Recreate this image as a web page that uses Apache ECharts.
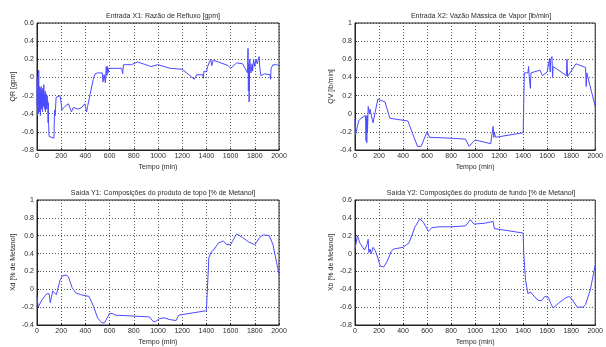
<!DOCTYPE html>
<html>
<head>
<meta charset="utf-8">
<script src="https://cdn.jsdelivr.net/npm/echarts@6/dist/echarts.min.js"></script>
<style>
  html, body { margin: 0; padding: 0; background: #fff; }
  #chart { width: 606px; height: 347px; }
</style>
</head>
<body>
<div id="chart"></div>
<script>
// Entrada X1: reflux flow rate QR [gpm]
const qrTime = [0,2,4,6,8,10,12,14,16,18,20,22,24,26,28,30,32,34,36,38,40,42,44,46,48,50,52,54,56,58,60,62,64,66,68,70,72,74,76,78,80,82,84,86,88,90,92,94,96,
  100,140,145,150,158,165,190,200,205,230,260,285,300,340,370,395,405,410,418,425,440,465,480,500,540,545,555,565,572,578,582,588,592,600,700,708,715,780,830,900,940,1000,1100,1200,1300,1312,1320,1370,1375,1380,1400,1410,1420,1425,1435,1445,1455,1500,1580,1600,1650,1700,1740,1744,1747,1750,1753,1758,1768,1778,1782,1790,1800,1810,1820,1835,1842,1850,1880,1925,1930,1935,1950,1980,2000];
const qrValue = [-0.30,0.00,-0.42,-0.15,-0.35,-0.05,-0.40,0.08,-0.25,-0.10,-0.38,-0.20,-0.30,-0.12,-0.42,-0.18,-0.28,-0.10,-0.35,-0.22,-0.15,-0.30,-0.18,-0.38,-0.12,-0.25,-0.20,-0.32,-0.08,-0.28,-0.18,-0.35,-0.22,-0.30,-0.15,-0.38,-0.25,-0.18,-0.30,-0.22,-0.35,-0.27,-0.20,-0.30,-0.25,-0.33,-0.50,-0.28,-0.52,
  -0.65,-0.67,-0.36,-0.42,-0.22,-0.20,-0.20,-0.28,-0.36,-0.32,-0.29,-0.38,-0.33,-0.35,-0.33,-0.29,-0.28,-0.38,-0.32,-0.30,-0.18,-0.02,0.04,0.05,0.05,-0.05,0.03,-0.06,0.12,0.02,0.12,0.05,0.10,0.10,0.10,0.04,0.14,0.14,0.17,0.14,0.12,0.14,0.10,0.09,-0.02,-0.03,0.03,0.03,-0.01,0.07,0.06,0.12,0.14,0.10,0.20,0.13,0.19,0.17,0.13,0.10,0.16,0.15,0.05,0.32,-0.15,0.15,-0.27,0.20,0.05,0.15,0.07,0.20,0.12,0.20,0.15,0.23,0.10,0.02,0.04,0.03,-0.02,0.10,0.14,0.14,0.13];

// Entrada X2: vapour mass flow QV [lb/min]
const qvTime = [0,5,20,30,50,88,92,95,98,101,104,110,120,125,150,190,250,290,440,520,550,600,620,800,920,950,1000,1130,1145,1150,1155,1160,1170,1400,1410,1440,1445,1450,1460,1465,1540,1560,1600,1620,1625,1630,1640,1645,1650,1760,1765,1770,1780,1840,1920,1925,1930,2000];
const qvValue = [-0.06,-0.23,-0.22,-0.08,-0.05,-0.02,-0.30,-0.03,-0.32,-0.02,-0.20,0.08,0.00,0.05,-0.10,0.16,0.13,-0.05,-0.08,-0.36,-0.36,-0.20,-0.26,-0.27,-0.28,-0.36,-0.29,-0.33,-0.32,-0.14,-0.26,-0.20,-0.26,-0.21,0.45,0.45,0.52,0.42,0.28,0.45,0.48,0.42,0.46,0.61,0.46,0.60,0.63,0.40,0.52,0.42,0.60,0.41,0.40,0.55,0.51,0.30,0.45,0.08];

// Saída Y1: top product composition Xd
const xdTime = [0,10,40,80,100,110,130,140,160,175,190,210,240,260,290,320,360,430,470,500,540,560,600,620,650,800,930,960,980,1010,1050,1100,1150,1170,1400,1420,1440,1460,1500,1540,1570,1600,1620,1650,1700,1750,1800,1840,1870,1920,1950,1980,2000];
const xdValue = [-0.08,-0.20,-0.12,-0.05,-0.05,-0.15,-0.02,-0.03,-0.06,-0.04,0.10,0.15,0.16,0.14,0.02,-0.04,-0.06,-0.08,-0.20,-0.32,-0.38,-0.37,-0.27,-0.27,-0.29,-0.30,-0.31,-0.36,-0.36,-0.33,-0.32,-0.34,-0.35,-0.29,-0.24,0.35,0.42,0.44,0.52,0.54,0.50,0.50,0.55,0.62,0.58,0.53,0.50,0.58,0.61,0.60,0.50,0.30,0.17];

// Saída Y2: bottom product composition Xb
const xbTime = [0,20,40,80,100,110,115,125,135,150,170,190,210,240,270,300,320,400,450,500,540,570,610,640,700,800,920,960,990,1080,1150,1160,1400,1405,1420,1440,1460,1470,1520,1550,1580,1610,1630,1650,1700,1750,1780,1790,1800,1850,1900,1920,1960,2000];
const xbValue = [0.05,0.20,0.12,0.04,0.10,0.16,0.01,0.05,0.00,0.07,0.03,-0.05,-0.14,-0.15,-0.08,0.02,0.05,0.07,0.12,0.30,0.39,0.35,0.25,0.29,0.30,0.30,0.31,0.38,0.33,0.34,0.36,0.28,0.23,0.00,-0.30,-0.45,-0.43,-0.45,-0.52,-0.53,-0.48,-0.49,-0.56,-0.61,-0.55,-0.50,-0.48,-0.50,-0.50,-0.60,-0.60,-0.57,-0.40,-0.13];

const panelTitles = [
  'Entrada X1: Razão de Refluxo [gpm]',
  'Entrada X2: Vazão Mássica de Vapor [lb/min]',
  'Saída Y1: Composições do produto de topo [% de Metanol]',
  'Saída Y2: Composições do produto de fundo [% de Metanol]'
];
const yNames = ['QR [gpm]', 'QV [lb/min]', 'Xd [% de Metanol]', 'Xb [% de Metanol]'];
const yRanges = [[-0.8, 0.6], [-0.4, 1], [-0.4, 1], [-0.8, 0.6]];

const font = 'Liberation Sans, Arial, sans-serif';
const textColor = '#2a2a2a';
const grids = [
  { left: 37, top: 23, width: 242, height: 127 },
  { left: 355, top: 23, width: 242, height: 127 },
  { left: 37, top: 200, width: 242, height: 128 },
  { left: 355, top: 200, width: 242, height: 128 }
];

const pairs = (ts, vs) => ts.map((t, i) => [t, vs[i]]);
const seriesData = [
  pairs(qrTime, qrValue),
  pairs(qvTime, qvValue),
  pairs(xdTime, xdValue),
  pairs(xbTime, xbValue)
];

const gridLine = { show: true, lineStyle: { color: '#333', type: [1, 2], width: 0.8 } };

const option = {
  backgroundColor: '#fff',
  animation: false,
  title: grids.map((g, i) => ({
    text: panelTitles[i],
    left: g.left + g.width / 2,
    top: g.top - 15,
    textAlign: 'center',
    textStyle: { fontFamily: font, fontSize: 7, fontWeight: 'normal', color: textColor }
  })),
  grid: grids.map(g => Object.assign({ show: true, borderColor: '#222', borderWidth: 1, backgroundColor: '#fff' }, g)),
  xAxis: grids.map((g, i) => ({
    type: 'value',
    gridIndex: i,
    min: 0,
    max: 2000,
    interval: 200,
    name: 'Tempo (min)',
    nameLocation: 'middle',
    nameGap: 14,
    nameTextStyle: { fontFamily: font, fontSize: 7, color: textColor },
    axisLine: { show: true, onZero: false, lineStyle: { color: '#222', width: 1 } },
    axisTick: { show: true, inside: true, length: 2, lineStyle: { color: '#222' } },
    axisLabel: { fontFamily: font, fontSize: 7, color: textColor, margin: 3, formatter: v => String(v) },
    splitLine: gridLine
  })),
  yAxis: grids.map((g, i) => ({
    type: 'value',
    gridIndex: i,
    min: yRanges[i][0],
    max: yRanges[i][1],
    interval: 0.2,
    name: yNames[i],
    nameLocation: 'middle',
    nameRotate: 90,
    nameGap: 20,
    nameTextStyle: { fontFamily: font, fontSize: 7, color: textColor },
    axisLine: { show: true, onZero: false, lineStyle: { color: '#222', width: 1 } },
    axisTick: { show: true, inside: true, length: 2, lineStyle: { color: '#222' } },
    axisLabel: {
      fontFamily: font, fontSize: 7, color: textColor, margin: 3,
      formatter: v => String(Math.round(v * 10) / 10)
    },
    splitLine: gridLine
  })),
  series: seriesData.map((d, i) => ({
    type: 'line',
    xAxisIndex: i,
    yAxisIndex: i,
    data: d,
    showSymbol: false,
    symbol: 'none',
    lineStyle: { color: '#4a4aff', width: 1 },
    silent: true
  }))
};

const chart = echarts.init(document.getElementById('chart'), null, { renderer: 'canvas' });
chart.setOption(option);
</script>
</body>
</html>
